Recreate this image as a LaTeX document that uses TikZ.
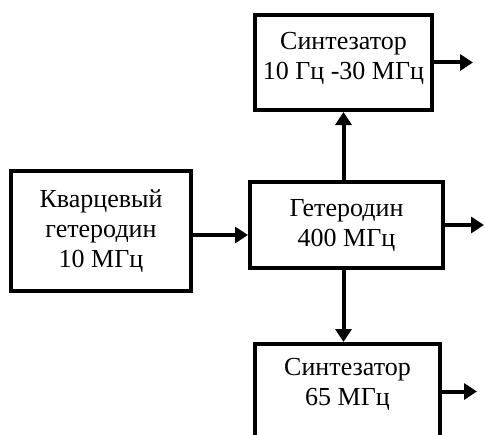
\documentclass[tikz,border=0pt]{standalone}
\usepackage{fontspec}
\setmainfont{Liberation Serif}
\usetikzlibrary{arrows.meta}

\begin{document}
\begin{tikzpicture}[x=0.75pt, y=-0.75pt, >={Triangle[length=9.75pt, width=12pt]},
    blok/.style={draw, line width=3pt, align=center, inner sep=0pt,
        font=\fontsize{19.5}{22.5}\selectfont},
    svyaz/.style={->, line width=3pt}]
    \useasboundingbox (0,0) rectangle (485,435);
    \node[blok, minimum width=132.75pt, minimum height=71.25pt, text depth=10pt] (sint1) at (343.5,62.5) {Синтезатор\\10 Гц -30 МГц};
    \node[blok, minimum width=135pt, minimum height=90pt] (kvarc) at (101,231) {Кварцевый\\гетеродин\\10 МГц};
    \node[blok, minimum width=144.75pt, minimum height=64.5pt] (get) at (346.5,225) {Гетеродин\\400 МГц};
    \node[blok, minimum width=138.75pt, minimum height=71.25pt, text depth=14.5pt] (sint2) at (347.5,391.5) {Синтезатор\\65 МГц};
    \coordinate (vyh1) at (473,62.5);
    \coordinate (vyh2) at (484,225);
    \coordinate (vyh3) at (477,391.5);
    \draw[svyaz] ([yshift=-3pt]kvarc.east) -- ([yshift=-3pt]kvarc.east -| get.west);
    \draw[svyaz] (get.north -| sint1) -- (sint1.south);
    \draw[svyaz] (get.south -| sint1) -- (sint2.north -| sint1);
    \draw[svyaz] (sint1.east) -- (vyh1);
    \draw[svyaz] (get.east) -- (vyh2);
    \draw[svyaz] (sint2.east) -- (vyh3);
\end{tikzpicture}
\end{document}
